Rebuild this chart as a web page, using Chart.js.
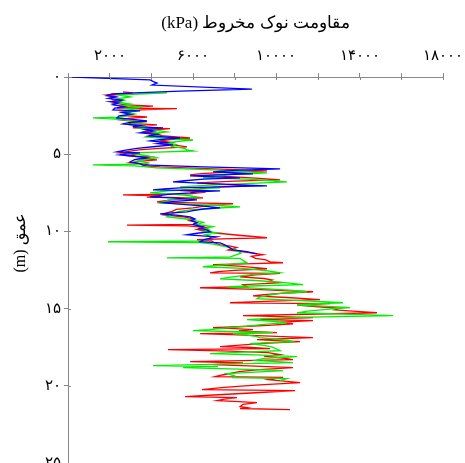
<!DOCTYPE html>
<html><head><meta charset="utf-8">
<script src="https://cdn.jsdelivr.net/npm/chart.js@4.4.1/dist/chart.umd.min.js"></script>
<style>html,body{margin:0;padding:0;overflow:hidden;background:#fff}</style>
</head><body>
<canvas id="c" width="480" height="480" dir="rtl"></canvas>
<script>
const xTitle = 'مقاومت نوک مخروط (kPa)';
const yTitle = 'عمق (m)';
const xTickValues = [0, 2000, 4000, 6000, 8000, 10000, 12000, 14000, 16000, 18000];
const xTickLabels = ['', '۲۰۰۰', '', '۶۰۰۰', '', '۱۰۰۰۰', '', '۱۴۰۰۰', '', '۱۸۰۰۰'];
const yTickValues = [0, 5, 10, 15, 20, 25];
const yTickLabels = ['۰', '۵', '۱۰', '۱۵', '۲۰', '۲۵'];

const blueDepth = [0.00,0.19,0.30,0.39,0.52,0.78,0.91,1.03,1.10,1.21,1.30,1.38,1.49,1.55,1.60,1.68,1.80,1.92,2.02,2.13,2.20,2.30,2.42,2.52,2.65,2.75,2.85,2.95,3.04,3.14,3.22,3.30,3.40,3.50,3.62,3.72,3.82,3.95,4.05,4.14,4.25,4.32,4.40,4.50,4.62,4.75,4.85,4.92,5.00,5.05,5.15,5.24,5.35,5.50,5.60,5.69,5.82,5.95,6.05,6.14,6.20,6.27,6.34,6.40,6.47,6.53,6.62,6.72,6.79,6.90,7.05,7.12,7.18,7.25,7.31,7.37,7.44,7.50,7.60,7.70,7.76,7.85,7.96,8.05,8.15,8.25,8.35,8.47,8.55,8.65,8.73,8.80,8.86,8.95,9.06,9.20,9.30,9.44,9.55,9.70,9.80,9.90,10.03,10.12,10.22,10.30,10.35,10.45,10.55,10.67,10.74,10.85,11.00,11.19,11.30,11.45];
const blueQc = [190,3940,4100,4270,4030,8830,5380,3200,2110,1870,2300,1950,2600,2500,2020,2400,2150,2700,2250,2160,3460,2600,3000,2450,2350,3100,3790,2900,2640,3500,3100,4560,3700,4100,3460,4300,3900,5380,4400,3940,4700,4300,5040,4200,3300,2700,2350,3460,2800,2500,3300,3790,3200,2980,3400,3600,6500,10180,8000,6960,7800,8880,7000,5860,7000,8260,6500,5600,5040,6800,9550,7200,5380,4600,4080,7300,6200,5860,4800,4300,3940,5200,6190,5100,4560,5500,6400,7300,6500,6000,5710,5000,4420,5200,5860,6100,5900,6190,6000,6480,6300,6670,6820,6200,5710,6600,7150,6800,6500,6340,7300,7500,7700,7920,8500,9070];

const redDepth = [0.97,1.03,1.16,1.25,1.36,1.49,1.60,1.70,1.81,1.88,1.95,2.01,2.05,2.13,2.26,2.38,2.50,2.59,2.68,2.78,2.90,3.00,3.10,3.20,3.30,3.35,3.45,3.56,3.65,3.75,3.85,3.95,4.05,4.14,4.25,4.35,4.45,4.53,4.62,4.72,4.82,4.92,5.00,5.10,5.17,5.28,5.37,5.47,5.56,5.65,5.75,5.82,5.95,6.08,6.18,6.26,6.34,6.45,6.56,6.66,6.75,6.86,6.95,7.05,7.15,7.25,7.35,7.45,7.57,7.63,7.70,7.78,7.83,7.92,8.02,8.09,8.15,8.21,8.30,8.40,8.47,8.58,8.70,8.82,8.93,9.05,9.18,9.30,9.42,9.55,9.60,9.64,9.70,9.77,9.88,10.03,10.12,10.25,10.41,10.48,10.54,10.62,10.72,10.87,10.95,11.05,11.20,11.35,11.51,11.62,11.75,11.85,11.97,12.03,12.10,12.16,12.25,12.35,12.42,12.52,12.60,12.68,12.72,12.82,12.94,13.05,13.15,13.25,13.32,13.45,13.58,13.65,13.75,13.85,13.91,14.02,14.10,14.17,14.28,14.36,14.42,14.52,14.62,14.68,14.78,14.88,14.98,15.08,15.20,15.27,15.35,15.46,15.52,15.59,15.66,15.72,15.78,15.88,15.98,16.08,16.16,16.24,16.30,16.36,16.45,16.56,16.62,16.72,16.80,16.88,16.95,17.01,17.08,17.14,17.25,17.35,17.46,17.52,17.59,17.66,17.75,17.85,17.98,18.08,18.20,18.31,18.38,18.44,18.52,18.63,18.72,18.82,18.95,19.08,19.20,19.30,19.41,19.45,19.60,19.79,19.95,20.10,20.25,20.31,20.45,20.58,20.70,20.76,20.86,20.96,21.02,21.09,21.20,21.35,21.42,21.47,21.54];
const redQc = [2640,3120,1870,2300,2020,2160,2500,2200,2830,4080,3000,2350,5230,3500,2640,3100,2700,3790,2900,2500,3400,3000,4270,3600,3120,4900,3900,3600,4300,4000,4900,5860,4900,4420,5000,4600,5300,5710,4400,3400,2900,2500,3300,3000,3940,3500,4270,3400,2980,3800,3600,4420,7000,9550,7500,6400,5860,7800,9200,10180,8000,6190,7400,8600,7000,6300,5400,6600,5860,2640,4500,3790,6480,5200,4600,4270,6000,7920,6800,6400,6000,5200,5000,4700,4560,5500,6000,5800,6200,6000,2830,5710,6300,6670,6200,6820,7200,8200,9550,7400,6190,6900,7000,7300,7800,8100,7700,8600,9360,8800,9000,9500,9700,10320,8500,6960,8200,9000,9550,8000,7200,6820,10180,9000,8260,9400,9800,9600,10320,8400,8590,6340,9000,10600,11760,10200,9400,8880,10500,11400,12100,9800,7780,12580,11000,12000,13000,12800,14020,14830,12000,8400,10200,11760,10000,9220,11760,10200,10800,9600,8400,6960,8000,8880,8200,10030,6340,8500,10000,11760,10400,9070,10000,11140,9400,8400,7300,8800,9700,4800,7800,9600,10180,9400,10300,10800,7800,5860,8400,6960,9000,10800,9200,8200,7800,7400,7060,10320,9600,11140,9000,7500,6430,10900,9000,7200,5620,8110,7500,7150,8200,9070,8400,8260,8600,8260,10660];

const greenDepth = [1.03,1.10,1.16,1.29,1.40,1.50,1.62,1.75,1.85,1.95,2.05,2.15,2.28,2.40,2.52,2.60,2.65,2.72,2.78,2.91,3.00,3.10,3.20,3.30,3.42,3.56,3.66,3.76,3.88,4.00,4.08,4.18,4.27,4.38,4.50,4.62,4.72,4.79,4.86,4.92,5.02,5.12,5.24,5.35,5.45,5.55,5.64,5.69,5.76,5.89,6.02,6.12,6.21,6.32,6.45,6.53,6.62,6.72,6.79,6.90,7.00,7.12,7.18,7.28,7.38,7.50,7.58,7.68,7.76,7.86,7.98,8.08,8.15,8.25,8.34,8.41,8.50,8.60,8.72,8.85,8.96,9.06,9.18,9.30,9.42,9.55,9.70,9.82,9.92,10.03,10.09,10.20,10.35,10.50,10.62,10.67,10.72,10.82,10.92,11.00,11.12,11.25,11.40,11.55,11.65,11.71,11.75,11.88,12.03,12.15,12.29,12.40,12.55,12.68,12.80,12.95,13.07,13.18,13.32,13.45,13.52,13.58,13.70,13.82,13.91,14.02,14.15,14.25,14.36,14.48,14.62,14.68,14.75,14.85,14.94,15.05,15.16,15.27,15.36,15.46,15.55,15.65,15.72,15.82,15.91,16.02,16.14,16.25,16.36,16.43,16.50,16.56,16.62,16.72,16.80,16.88,16.98,17.06,17.14,17.20,17.27,17.38,17.50,17.60,17.72,17.82,17.92,18.00,18.11,18.22,18.35,18.45,18.50,18.60,18.69,18.76,18.82,18.92,19.02,19.12,19.21,19.35,19.47,19.53,19.66];
const greenQc = [4750,3400,2350,2980,2400,2700,2300,3000,2600,3600,2800,3300,2700,3200,2800,2500,1200,2300,2640,3790,3100,2980,3700,3400,4100,4750,4000,4300,3790,5000,6000,5200,4750,5200,5000,5600,5700,6000,4300,2830,3400,3900,4270,3600,3300,3800,3500,1200,3200,4270,7000,8200,9550,7800,7000,6480,8600,9800,10510,8500,6800,5380,7300,6200,4800,3940,5000,5800,6190,5400,4800,4600,4420,6000,7400,8260,7000,5860,5300,5000,4900,4750,5600,6100,6500,6200,6960,6600,6800,6480,7150,6600,6900,6700,6400,1920,6340,7000,7300,7630,7900,8100,8300,8000,7800,4750,8260,8400,8590,7600,6480,8400,9600,10180,8800,7900,7300,9000,10400,11280,9200,7630,9400,10800,11470,10200,9600,9200,9070,11200,13200,12000,10990,12500,13540,12400,11500,10990,13200,15600,11600,9400,8590,9800,10510,9400,8600,7600,6800,6000,8200,9840,7920,8600,9000,9220,10000,10600,10800,9600,8740,9400,9800,10000,10180,8400,6820,9000,10990,9400,9000,10200,10800,7500,4080,7200,5520,8200,10320,9000,7630,8000,7920,10510,10180];

const seriesColors = ['#0000ff', '#00ee00', '#ff0000'];

function pts(q, d) { return q.map((v, i) => ({x: v, y: d[i]})); }

const FONT = "'Liberation Serif', 'DejaVu Serif', serif";

const innerTicks = {
  id: 'innerTicks',
  afterDraw(chart) {
    const ctx = chart.ctx, xs = chart.scales.x, ys = chart.scales.y, a = chart.chartArea;
    ctx.save();
    ctx.strokeStyle = '#888'; ctx.lineWidth = 1;
    ctx.beginPath();
    xTickValues.forEach(v => { const px = Math.round(xs.getPixelForValue(v)) + 0.5; ctx.moveTo(px, a.top); ctx.lineTo(px, a.top + 3); });
    yTickValues.forEach(v => { const py = Math.round(ys.getPixelForValue(v)) + 0.5; ctx.moveTo(a.left, py); ctx.lineTo(a.left + 3, py); });
    ctx.stroke();
    ctx.direction = 'rtl';
    ctx.fillStyle = '#000';
    ctx.font = '16px ' + FONT;
    ctx.textAlign = 'center'; ctx.textBaseline = 'middle';
    ctx.translate(21, 243);
    ctx.rotate(-Math.PI / 2);
    ctx.fillText(yTitle, 0, 0);
    ctx.restore();
  }
};

new Chart(document.getElementById('c'), {
  type: 'scatter',
  data: {
    datasets: [
      {data: pts(blueQc, blueDepth), borderColor: seriesColors[0]},
      {data: pts(greenQc, greenDepth), borderColor: seriesColors[1]},
      {data: pts(redQc, redDepth), borderColor: seriesColors[2]}
    ].map(d => Object.assign(d, {showLine: true, pointRadius: 0, borderWidth: 1.3, tension: 0, fill: false}))
  },
  options: {
    responsive: false,
    animation: false,
    devicePixelRatio: 1,
    layout: {padding: {left: 0, top: 0, right: 37, bottom: 17}},
    plugins: {legend: {display: false}, tooltip: {enabled: false}},
    scales: {
      x: {
        type: 'linear', position: 'top', min: 0, max: 18000,
        afterFit: s => { s.height = 77; },
        afterBuildTicks: s => { s.ticks = xTickValues.map(v => ({value: v})); },
        ticks: {
          callback: v => { const i = xTickValues.indexOf(v); return i >= 0 ? xTickLabels[i] : ''; },
          font: {family: FONT, size: 15}, color: '#000', padding: 8, maxRotation: 0, autoSkip: false
        },
        grid: {drawOnChartArea: false, drawTicks: true, tickLength: 4, color: '#888'},
        border: {color: '#888', width: 1},
        title: {display: true, text: xTitle, font: {family: FONT, size: 17}, color: '#000', padding: {top: 13, bottom: 0}}
      },
      y: {
        type: 'linear', reverse: true, min: 0, max: 25,
        afterFit: s => { s.width = 68; },
        afterBuildTicks: s => { s.ticks = yTickValues.map(v => ({value: v})); },
        ticks: {
          callback: v => { const i = yTickValues.indexOf(v); return i >= 0 ? yTickLabels[i] : ''; },
          font: {family: FONT, size: 15}, color: '#000', padding: 3, autoSkip: false
        },
        grid: {drawOnChartArea: false, drawTicks: true, tickLength: 4, color: '#888'},
        border: {color: '#888', width: 1}
      }
    }
  },
  plugins: [innerTicks]
});
</script>
</body></html>
